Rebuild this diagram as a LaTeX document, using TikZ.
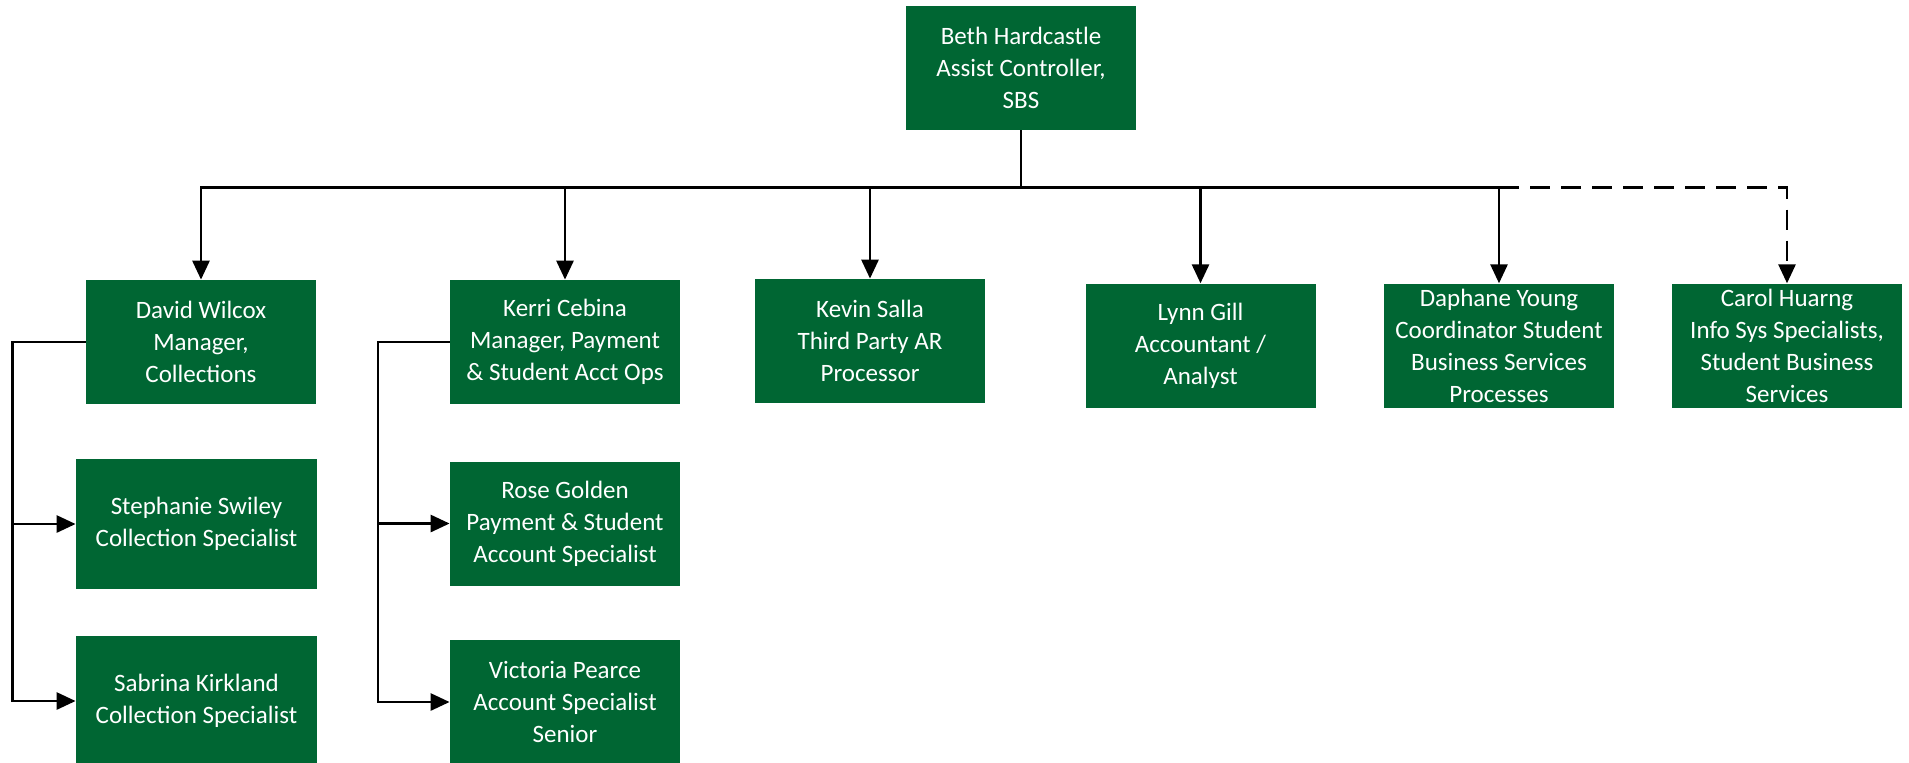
\documentclass[tikz,border=0pt]{standalone}
\usepackage{fontspec}
\setmainfont{Carlito}
\usetikzlibrary{arrows.meta}
\definecolor{sbsgreen}{RGB}{0,102,51}
\begin{document}
\begin{tikzpicture}[x=1pt, y=1pt,
    staff/.style={rectangle, fill=sbsgreen, text=white, align=center, inner sep=0pt,
                  minimum width=115pt, minimum height=62pt,
                  font=\fontsize{12.5pt}{16pt}\selectfont},
    widestaff/.style={staff, minimum width=120.5pt, minimum height=65pt},
    link/.style={line width=1.4pt, -{Triangle[length=9.5pt, width=8.5pt]}},
    dotted link/.style={link, dash pattern=on 10pt off 5.5pt}]
    \useasboundingbox (0,0) rectangle (954.5,-381);
    % Place nodes
    \node[staff] (beth) at (510.5,-34) {Beth Hardcastle\\Assist Controller,\\SBS};
    \node[staff] (david) at (100.5,-171) {David Wilcox\\Manager,\\Collections};
    \node[staff] (kerri)   [right of = david, node distance=182pt]               {Kerri Cebina\\Manager, Payment\\\& Student Acct Ops};
    \node[staff] (kevin)   [right of = kerri, node distance=152.5pt, yshift=0.5pt] {Kevin Salla\\Third Party AR\\Processor};
    \node[staff] (lynn)    [right of = kevin, node distance=165.25pt, yshift=-2.35pt] {Lynn Gill\\Accountant /\\Analyst};
    \node[staff] (daphane) [right of = lynn, node distance=149.25pt]            {Daphane Young\\Coordinator Student\\Business Services\\Processes};
    \node[staff] (carol)   [right of = daphane, node distance=144pt]            {Carol Huarng\\Info Sys Specialists,\\Student Business\\Services};
    \node[widestaff] (stephanie) [below of = david, node distance=91pt, xshift=-2.25pt] {Stephanie Swiley\\Collection Specialist};
    \node[widestaff] (sabrina)   [below of = stephanie, node distance=88.5pt]          {Sabrina Kirkland\\Collection Specialist};
    \node[staff] (rose)     [below of = kerri, node distance=90.75pt] {Rose Golden\\Payment \& Student\\Account Specialist};
    \node[staff] (victoria) [below of = rose, node distance=89.25pt]  {Victoria Pearce\\Account Specialist\\Senior};
    % Junctions
    \coordinate (bus) at (510.5,-93.85);
    \coordinate (davidline) at (6.15,-171);
    \coordinate (kerriline) at (189,-171);
    % Create edges
    % From Beth
      \draw[link] (beth.south) -- (bus) -| (david.north);
      \draw[link] (bus) -| (kerri.north);
      \draw[link] (bus) -| (kevin.north);
      \draw[link] (bus) -| (lynn.north);
      \draw[link] (bus) -| (daphane.north);
      \draw[dotted link] (bus -| daphane.north) -| (carol.north);
    % Left teams
      \draw[link] (david.west) -- (davidline) |- (stephanie.west);
      \draw[link] (davidline) |- (sabrina.west);
      \draw[link] (kerri.west) -- (kerriline) |- (rose.west);
      \draw[link] (kerriline) |- (victoria.west);
\end{tikzpicture}
\end{document}
